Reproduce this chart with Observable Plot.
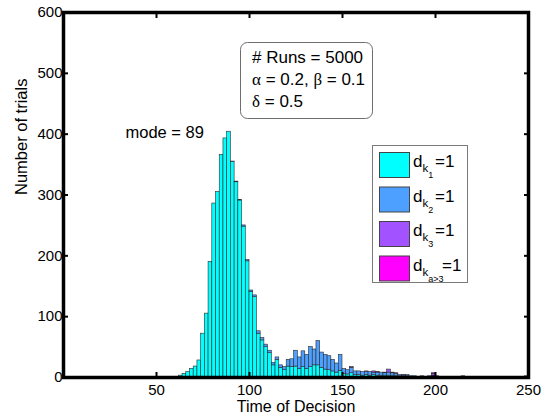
<!DOCTYPE html>
<html><head><meta charset="utf-8">
<script src="https://cdn.jsdelivr.net/npm/d3@7"></script>
<script src="https://cdn.jsdelivr.net/npm/@observablehq/plot@0.6"></script>
<style>
body{margin:0;background:#fff;}
#chart svg{display:block;}
</style>
</head><body><div id="chart"></div>
<script>
// ---- data ----
const binWidth = 2;
const binStarts = [
  62,64,66,68,70,72,74,76,78,80,
  82,84,86,88,90,92,94,96,98,100,
  102,104,106,108,110,112,114,116,118,120,
  122,124,126,128,130,132,134,136,138,140,
  142,144,146,148,150,152,154,156,158,160,
  162,164,166,168,170,172,174,176,178,180,
  182,184,186,188,190,192,194,196,198,200,
  202,204,206,208,210,212,214,216,218,220,
  222,224,226,228,230,232,234,236,238,240,
  242,244,246,248];
const cyanCounts = [
  3,6,9,14,18,28,72,105,190,286,
  305,366,393,404,354,321,291,248,191,141,
  132,72,61,50,40,20,29,16,12,18,
  17,18,14,17,14,17,20,20,16,13,
  12,10,8,11,6,5,7,4,4,3,
  4,3,4,3,3,3,3,3,2,2,
  1,2,1,1,1,1,0,1,2,1,
  1,0,1,1,0,1,2,0,1,0,
  0,1,0,0,1,0,1,1,1,1,
  0,0,1,2];
const blueCounts = [
  0,0,0,0,0,0,0,0,0,0,
  0,0,0,0,1,1,1,2,2,2,
  3,4,4,4,4,4,4,4,5,11,
  13,26,19,26,23,33,26,40,25,24,
  23,19,15,26,8,7,9,6,6,6,
  5,6,4,5,5,4,5,4,4,2,
  2,2,1,1,0,1,1,1,1,1,
  0,1,0,0,1,0,0,1,0,0,
  1,0,0,0,0,1,0,0,0,0,
  0,0,0,0];
const purpleCounts = [
  0,0,0,0,0,0,0,0,0,0,
  0,0,0,0,0,0,0,0,0,0,
  0,0,0,0,0,0,0,0,0,0,
  0,0,0,0,0,0,0,0,0,0,
  0,0,0,0,0,0,1,0,0,0,
  1,0,2,1,0,1,5,1,1,0,
  1,0,0,0,0,0,0,0,3,0,
  0,0,0,0,0,0,0,0,0,0,
  0,0,0,0,0,0,0,0,0,0,
  0,0,0,0];
const magentaCounts = [
  0,0,0,0,0,0,0,0,0,0,
  0,0,0,0,0,0,0,0,0,0,
  0,0,0,0,0,0,0,0,0,0,
  0,0,0,0,0,0,0,0,0,0,
  0,0,0,0,0,0,0,0,0,0,
  0,0,0,0,0,0,0,0,0,0,
  0,0,0,0,0,0,0,0,1,0,
  0,0,0,0,0,0,0,0,0,0,
  0,0,0,0,0,0,0,0,0,0,
  0,0,0,0];
const seriesNames = ["1", "2", "3", "a>3"];
const seriesColors = ["#00FFFF", "#4DA0FF", "#A352FF", "#FF00FF"];
const xTicks = [50, 100, 150, 200, 250];
const yTicks = [0, 100, 200, 300, 400, 500, 600];
const xLabel = "Time of Decision";
const yLabel = "Number of trials";
const modeValue = 89;
const infoLines = [
  [{t:"# Runs = 5000"}],
  [{t:"α", g:true},{t:" = 0.2, "},{t:"β", g:true},{t:" = 0.1"}],
  [{t:"δ", g:true},{t:" = 0.5"}]
];

// ---- stacked rows ----
const seriesValues = [cyanCounts, blueCounts, purpleCounts, magentaCounts];
const rows = [];
binStarts.forEach((b, i) => {
  let base = 0;
  seriesValues.forEach((vals, j) => {
    const v = vals[i];
    if (v > 0) rows.push({x1: b, x2: b + binWidth, y1: base, y2: base + v, series: seriesNames[j]});
    base += v;
  });
});

const FONT = "'Liberation Sans', Arial, sans-serif";

const chart = Plot.plot({
  width: 550,
  height: 415,
  marginLeft: 63,
  marginRight: 22,
  marginTop: 12,
  marginBottom: 38,
  style: {fontFamily: FONT, fontSize: "15px", color: "#000", background: "#fff"},
  x: {domain: [0, 250]},
  y: {domain: [0, 600]},
  color: {domain: seriesNames, range: seriesColors},
  marks: [
    Plot.rect(rows, {x1: "x1", x2: "x2", y1: "y1", y2: "y2", fill: "series", stroke: "#2b2b2b", strokeWidth: 0.6}),
    Plot.axisX({ticks: xTicks, tickSize: -5, tickPadding: 12, strokeWidth: 2, label: null, fontSize: 15}),
    Plot.axisX({anchor: "top", ticks: xTicks, tickSize: -5, strokeWidth: 2, tickFormat: () => "", label: null}),
    Plot.axisY({ticks: yTicks, tickSize: -5, tickPadding: 6, strokeWidth: 2, label: null, fontSize: 15}),
    Plot.axisY({anchor: "right", ticks: yTicks, tickSize: -5, strokeWidth: 2, tickFormat: () => "", label: null}),
    Plot.frame({stroke: "#000", strokeWidth: 3.5}),
    Plot.text([xLabel], {frameAnchor: "bottom", dy: 29, lineAnchor: "middle", text: d => d, fontSize: 16}),
    Plot.text([yLabel], {frameAnchor: "left", dx: -42, rotate: -90, lineAnchor: "middle", text: d => d, fontSize: 16.5}),
    Plot.text([modeValue], {x: 75.5, y: 394, text: d => `mode = ${d}`, textAnchor: "end", lineAnchor: "bottom", fontSize: 16.5})
  ]
});
document.getElementById("chart").appendChild(chart);

// ---- annotation box and legend ----
const svg = d3.select(chart);
const info = svg.append("g").attr("font-family", FONT).attr("font-size", 17).attr("text-anchor", "start");
info.append("rect").attr("x", 240.5).attr("y", 42.5).attr("width", 132).attr("height", 76)
  .attr("rx", 7).attr("fill", "#fff").attr("stroke", "#6e6e6e").attr("stroke-width", 1);
infoLines.forEach((line, i) => {
  const t = info.append("text").attr("x", 252).attr("y", 63 + i * 22);
  line.forEach(p => {
    const s = t.append("tspan").text(p.t);
    if (p.g) s.attr("font-family", "'Liberation Serif', 'DejaVu Serif', serif");
  });
});

const leg = svg.append("g").attr("font-family", FONT).attr("text-anchor", "start");
leg.append("rect").attr("x", 372.5).attr("y", 145.5).attr("width", 95).attr("height", 137)
  .attr("fill", "#fff").attr("stroke", "#7a7a7a").attr("stroke-width", 1);
seriesNames.forEach((name, i) => {
  const y0 = 152 + i * 34.5;
  leg.append("rect").attr("x", 379.5).attr("y", y0 + 0.5).attr("width", 30).attr("height", 25)
    .attr("fill", seriesColors[i]).attr("stroke", "#444").attr("stroke-width", 1);
  const t = leg.append("text").attr("x", 413).attr("y", y0 + 15).attr("font-size", 17);
  t.append("tspan").text("d");
  t.append("tspan").attr("dy", 5).attr("font-size", 11.5).text("k");
  t.append("tspan").attr("dy", 6).attr("font-size", 9).text(name);
  t.append("tspan").attr("x", name.length > 1 ? 442 : 435).attr("dy", -11).attr("font-size", 17).text("=1");
});
</script>
</body></html>
